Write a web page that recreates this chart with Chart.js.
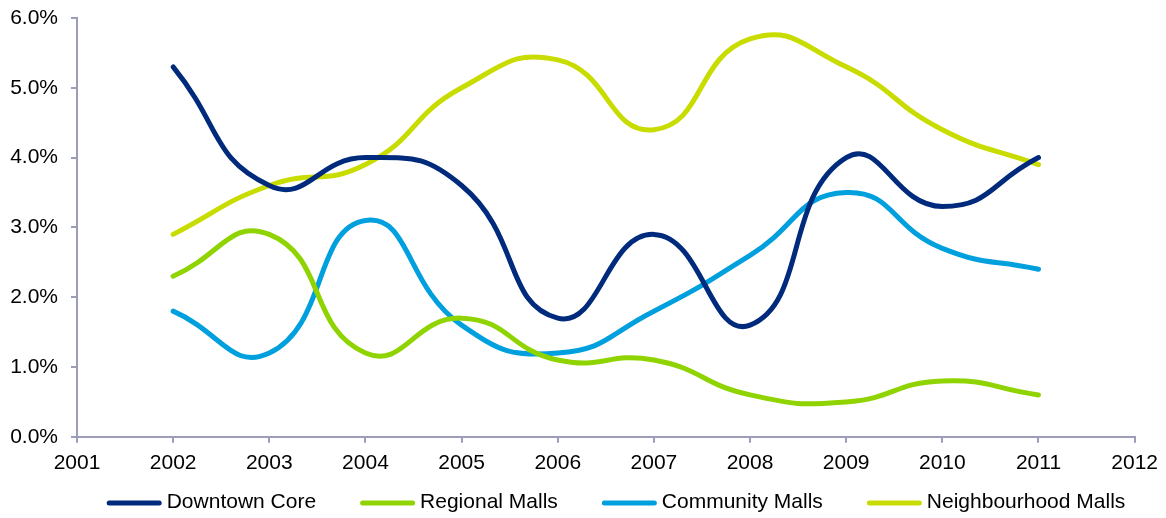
<!DOCTYPE html>
<html>
<head>
<meta charset="utf-8">
<script src="https://cdn.jsdelivr.net/npm/chart.js@4.4.1/dist/chart.umd.min.js"></script>
<style>
  html, body { margin: 0; padding: 0; background: #fff; }
  #wrap { width: 1166px; height: 518px; }
</style>
</head>
<body>
<div id="wrap"><canvas id="chart"></canvas></div>
<script>
// vacancy rate by retail type, %
const years = [2002, 2003, 2004, 2005, 2006, 2007, 2008, 2009, 2010, 2011];
const downtownCore = [5.3, 3.6, 4.0, 3.6, 1.7, 2.9, 1.6, 4.0, 3.3, 4.0];
const regionalMalls = [2.3, 2.9, 1.2, 1.7, 1.1, 1.1, 0.6, 0.5, 0.8, 0.6];
const communityMalls = [1.8, 1.2, 3.1, 1.6, 1.2, 1.8, 2.6, 3.5, 2.7, 2.4];
const neighbourhoodMalls = [2.9, 3.6, 3.9, 5.0, 5.4, 4.4, 5.7, 5.3, 4.4, 3.9];
const seriesNames = ['Downtown Core', 'Regional Malls', 'Community Malls', 'Neighbourhood Malls'];
const seriesColors = ['#002a7c', '#8fd400', '#00a0de', '#c9dc00'];

const axisColor = '#9c9db8';
const fontFamily = 'Liberation Sans, Arial, sans-serif';
const font = { family: fontFamily, size: 21 };

const seriesData = [downtownCore, regionalMalls, communityMalls, neighbourhoodMalls];
const datasets = seriesData.map((vals, i) => ({
  label: seriesNames[i],
  data: vals.map((v, j) => ({ x: years[j], y: v })),
  borderColor: seriesColors[i],
  backgroundColor: seriesColors[i],
  borderWidth: 5,
  borderCapStyle: 'round',
  tension: 0.5,
  pointRadius: 0,
  fill: false
}));

// legend drawn by hand: long line swatches, wide gaps between entries
const lineLegend = {
  id: 'lineLegend',
  afterDraw(chart) {
    const ctx = chart.ctx;
    const sw = 55, gapText = 5, gapItem = 44, y = 502;
    ctx.save();
    ctx.font = `${font.size}px ${fontFamily}`;
    const widths = chart.data.datasets.map(d => ctx.measureText(d.label).width);
    const total = widths.reduce((a, w) => a + sw + gapText + w, 0) + gapItem * (widths.length - 1);
    let x = 616 - total / 2;
    chart.data.datasets.forEach((d, i) => {
      ctx.strokeStyle = d.borderColor;
      ctx.lineWidth = 5;
      ctx.lineCap = 'round';
      ctx.beginPath();
      ctx.moveTo(x + 2.5, y + 1);
      ctx.lineTo(x + sw - 2.5, y + 1);
      ctx.stroke();
      x += sw + gapText;
      ctx.fillStyle = '#000';
      ctx.textBaseline = 'middle';
      ctx.fillText(d.label, x, y);
      x += widths[i] + gapItem;
    });
    ctx.restore();
  }
};

new Chart(document.getElementById('chart'), {
  type: 'line',
  data: { datasets },
  plugins: [lineLegend],
  options: {
    responsive: true,
    maintainAspectRatio: false,
    animation: false,
    layout: { padding: { top: 18, right: 29, bottom: 34, left: 0 } },
    plugins: {
      tooltip: { enabled: false },
      legend: { display: false }
    },
    scales: {
      x: {
        type: 'linear',
        min: 2001,
        max: 2012,
        ticks: { stepSize: 1, color: '#000', font, padding: 8, callback: v => String(v) },
        grid: { drawOnChartArea: false, drawTicks: true, tickLength: 6, color: axisColor, lineWidth: 2 },
        border: { color: axisColor, width: 2 }
      },
      y: {
        min: 0,
        max: 6,
        ticks: { stepSize: 1, color: '#000', font, padding: 13, callback: v => v.toFixed(1) + '%' },
        grid: { drawOnChartArea: false, drawTicks: true, tickLength: 6, color: axisColor, lineWidth: 2 },
        border: { color: axisColor, width: 2 },
        afterFit: s => { s.width = 77; s.paddingTop = 0; }
      }
    }
  }
});
</script>
</body>
</html>
